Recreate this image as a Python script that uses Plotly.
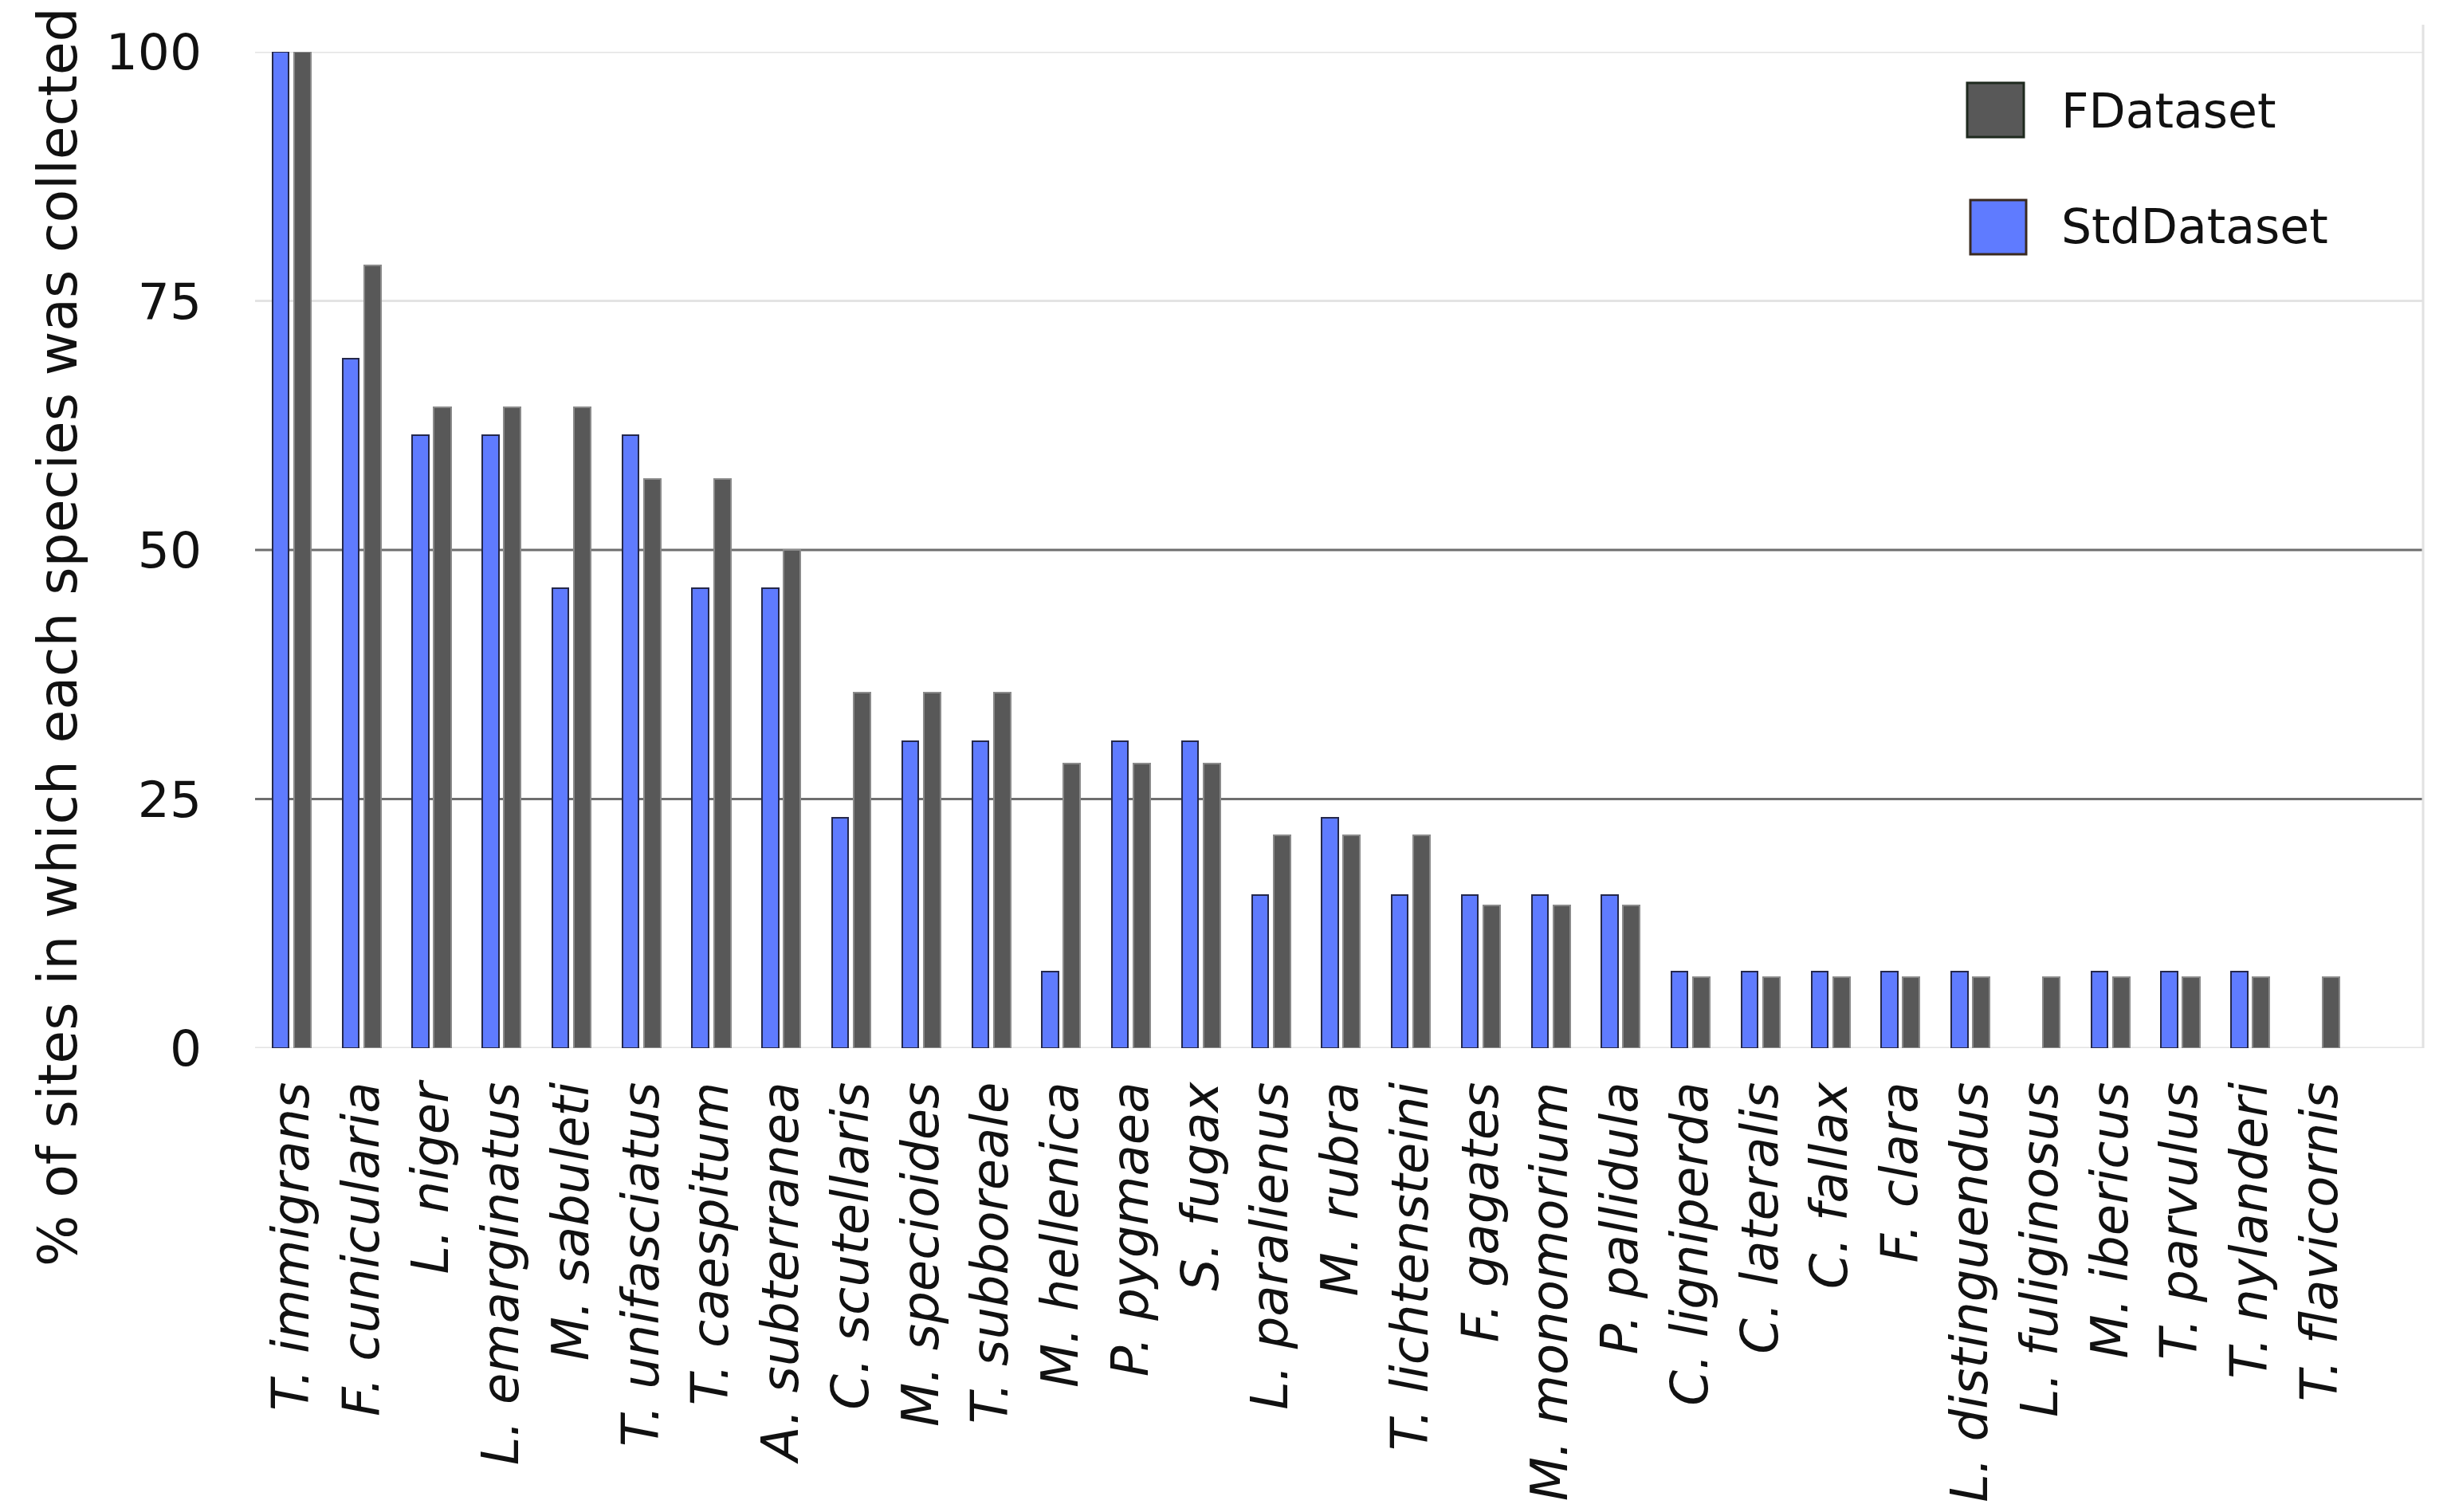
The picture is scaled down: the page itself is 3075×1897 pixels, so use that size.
import plotly.graph_objects as go

species = [
    "T. immigrans", "F. cunicularia", "L. niger", "L. emarginatus", "M. sabuleti",
    "T. unifasciatus", "T. caespitum", "A. subterranea", "C. scutellaris", "M. specioides",
    "T. subboreale", "M. hellenica", "P. pygmaea", "S. fugax", "L. paralienus",
    "M. rubra", "T. lichtensteini", "F. gagates", "M. monomorium", "P. pallidula",
    "C. ligniperda", "C. lateralis", "C. fallax", "F. clara", "L. distinguendus",
    "L. fuliginosus", "M. ibericus", "T. parvulus", "T. nylanderi", "T. flavicornis",
]

std_dataset = [100, 69.2, 61.5, 61.5, 46.2, 61.5, 46.2, 46.2, 23.1, 30.8,
               30.8, 7.7, 30.8, 30.8, 15.4, 23.1, 15.4, 15.4, 15.4, 15.4,
               7.7, 7.7, 7.7, 7.7, 7.7, 0, 7.7, 7.7, 7.7, 0]

f_dataset = [100, 78.6, 64.3, 64.3, 64.3, 57.1, 57.1, 50.0, 35.7, 35.7,
             35.7, 28.6, 28.6, 28.6, 21.4, 21.4, 21.4, 14.3, 14.3, 14.3,
             7.1, 7.1, 7.1, 7.1, 7.1, 7.1, 7.1, 7.1, 7.1, 7.1]

y_ticks = [0, 25, 50, 75, 100]
light_grid = [0, 75, 100]
dark_grid = [25, 50]
series_names = ["FDataset", "StdDataset"]

FONT = "DejaVu Sans"
BLUE = "#5f7bff"
GRAY = "#585858"

W, H = 3075, 1897
L, R, T, B = 312, 43, 57, 590
PW, PH = W - L - R, H - T - B

fig = go.Figure()
fig.add_trace(go.Bar(
    x=species, y=std_dataset, name=series_names[1],
    offset=-0.274, width=0.232,
    marker=dict(color=BLUE, line=dict(color="#25284a",
                                      width=[2 if v > 0 else 0 for v in std_dataset])),
    showlegend=False,
))
fig.add_trace(go.Bar(
    x=species, y=f_dataset, name=series_names[0],
    offset=0.034, width=0.24,
    marker=dict(color=GRAY, line=dict(color="#8a8a8a",
                                      width=[2 if v > 0 else 0 for v in f_dataset])),
    showlegend=False,
))

def px_x(p):
    return (p - L) / PW

def px_y(p):
    return (H - B - p) / PH

shapes = []
for v in light_grid:
    shapes.append(dict(type="line", xref="paper", yref="y", x0=0, x1=1, y0=v, y1=v,
                       line=dict(color="#e3e3e3", width=3), layer="below"))
for v in dark_grid:
    shapes.append(dict(type="line", xref="paper", yref="y", x0=0, x1=1, y0=v, y1=v,
                       line=dict(color="#6e6e6e", width=3), layer="below"))
# right border line
shapes.append(dict(type="line", xref="paper", yref="paper", x0=1, x1=1,
                   y0=0, y1=px_y(23), line=dict(color="#e2e2e2", width=3), layer="below"))
# legend swatches
legend_items = [
    (series_names[0], GRAY, "#1f2a1f", 2460, 2531, 96, 164, 131),
    (series_names[1], BLUE, "#3a2a20", 2464, 2534, 243, 311, 276),
]
annotations = []
for name, col, edge, x0, x1, y0, y1, ty in legend_items:
    shapes.append(dict(type="rect", xref="paper", yref="paper",
                       x0=px_x(x0), x1=px_x(x1), y0=px_y(y1), y1=px_y(y0),
                       fillcolor=col, line=dict(color=edge, width=3), layer="above"))
    annotations.append(dict(xref="paper", yref="paper", x=px_x(2576), y=px_y(ty),
                            text=name, showarrow=False, xanchor="left", yanchor="middle",
                            font=dict(family=FONT, size=60, color="#111")))

annotations.append(dict(xref="paper", yref="paper", x=px_x(65), y=px_y(791),
                        text="% of sites in which each species was collected",
                        textangle=-90, showarrow=False, xanchor="center", yanchor="middle",
                        font=dict(family=FONT, size=68, color="#111")))

fig.update_layout(
    width=W, height=H,
    margin=dict(l=L, r=R, t=T, b=B, autoexpand=False),
    paper_bgcolor="white", plot_bgcolor="rgba(0,0,0,0)",
    font=dict(family=FONT, color="#111"),
    shapes=shapes, annotations=annotations,
    bargap=0, showlegend=False,
)
fig.update_xaxes(
    range=[-0.524, 30.47], showgrid=False, showline=False, zeroline=False,
    tickangle=-90, ticks="outside", ticklen=16, tickcolor="rgba(0,0,0,0)",
    tickfont=dict(family=FONT, size=64, style="italic", color="#111"),
)
fig.update_yaxes(
    range=[0, 100], tickvals=y_ticks, showgrid=False,
    zeroline=False, showline=False, ticks="", ticklabelstandoff=66,
    tickfont=dict(family=FONT, size=63, color="#111"),
)

fig.write_html("out.html")
